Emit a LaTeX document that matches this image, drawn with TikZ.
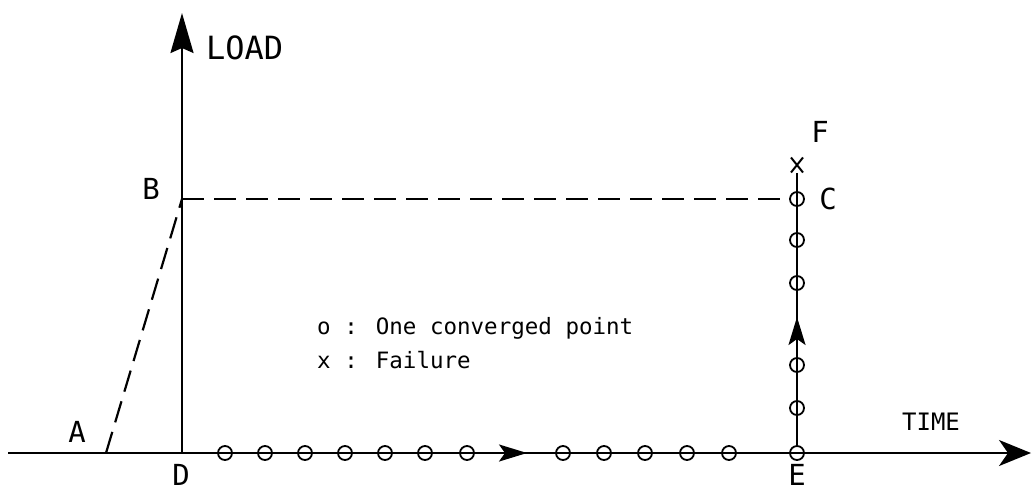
\documentclass[tikz,border=0pt]{standalone}
\usepackage{fontspec}
\newfontfamily\plotfont{DejaVu Sans Mono}
\usetikzlibrary{arrows.meta,shapes.misc}
\begin{document}
\begin{tikzpicture}[x=1pt,y=-1pt,
  axis/.style={line width=2.2pt},
  guide/.style={line width=2.2pt, dash pattern=on 22pt off 10pt},
  pt/.style={circle, draw, line width=1.8pt, minimum size=14pt, inner sep=0pt},
  fail/.style={cross out, draw, line width=2pt, minimum width=10pt, minimum height=13pt, inner sep=0pt},
  lbl/.style={font=\plotfont\fontsize{29}{31}\selectfont, inner sep=0pt},
  axlbl/.style={font=\plotfont\fontsize{32}{34}\selectfont, inner sep=0pt},
  tlbl/.style={font=\plotfont\fontsize{24}{26}\selectfont, inner sep=0pt},
  legend/.style={font=\plotfont\fontsize{22.5}{24}\selectfont, inner sep=0pt, anchor=base west},
  bigtip/.tip={Stealth[length=40pt, width=23pt, inset=5pt]},
  timetip/.tip={Stealth[length=32pt, width=26pt, inset=9pt]},
  midtip/.tip={Stealth[length=28pt, width=17pt, inset=6pt]}
]
\useasboundingbox (0,0) rectangle (1032,491);

% key points of the load history
\coordinate (L) at (8,453);
\coordinate (T) at (1031,453);
\coordinate (A) at (106,453);
\coordinate (D) at (182,453);
\coordinate (B) at (182,199);
\coordinate (Ltop) at (182,13);
\coordinate (M) at (527,453);
\coordinate (V) at (797,317);

% axes
\draw[axis, -timetip] (L) -- (T);
\draw[axis, -bigtip] (D) -- (Ltop);

% converged points along the time axis
\foreach \i/\x in {1/225,2/265,3/305,4/345,5/385,6/425,7/467,8/563,9/604,10/645,11/687,12/729}
  \node[pt] (h\i) at (\x,453) {};
\node[pt] (E) at (797,453) {};

% converged points along the loading branch
\foreach \i/\y in {1/408,2/365,3/283,4/240}
  \node[pt] (v\i) at (797,\y) {};
\node[pt] (C) at (797,199) {};
\node[fail] (F) at (797,165) {};

% direction of the solution path
\draw[axis, -midtip] (h7.east) -- (M);
\draw[axis] (E) -- (F);
\draw[axis, -midtip] (v2.north) -- (V);

% load ramp and sustained level
\draw[guide] (A) -- (B);
\draw[guide] (B) -- (C.west);

% labels
\node[axlbl, anchor=west] at (206,48) {LOAD};
\node[tlbl] at (931,422) {TIME};
\node[lbl] at (77,432) {A};
\node[lbl] at (151,189) {B};
\node[lbl] at (828,199) {C};
\node[lbl] at (181,475) {D};
\node[lbl] at (797,475) {E};
\node[lbl] at (820,132) {F};

% legend
\node[legend] at (317,334) {o : One converged point};
\node[legend] at (317,368) {x : Failure};
\end{tikzpicture}
\end{document}
